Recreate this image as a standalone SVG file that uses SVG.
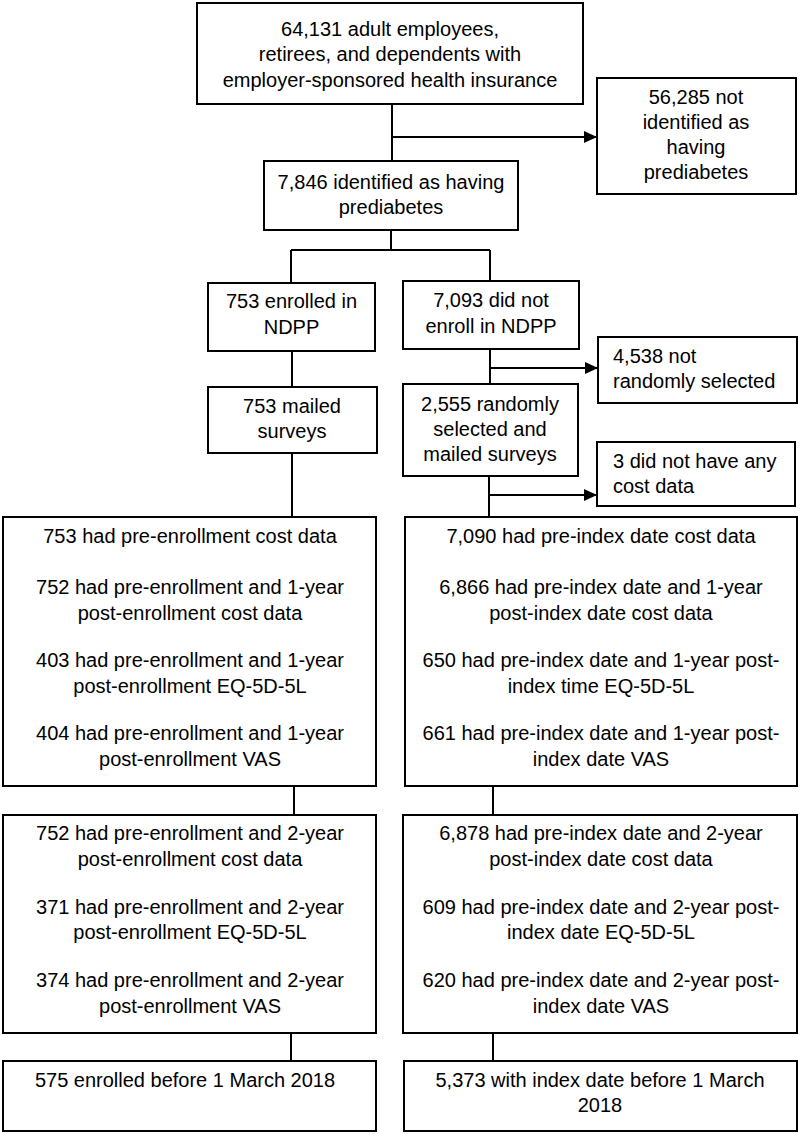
<svg xmlns="http://www.w3.org/2000/svg" width="800" height="1134" viewBox="0 0 800 1134">
<style>
.box{fill:#fff;stroke:#000;stroke-width:2}
.ln{fill:none;stroke:#000;stroke-width:2}
text{font-family:"Liberation Sans",Arial,sans-serif;font-size:20px;fill:#000}
.c{text-anchor:middle}
</style>
<defs>
<marker id="ah" markerUnits="userSpaceOnUse" markerWidth="14" markerHeight="12" refX="13" refY="6" orient="auto">
<path d="M0,0 L13,6 L0,12 Z" fill="#000"/>
</marker>
</defs>
<rect width="800" height="1134" fill="#fff"/>
<g id="connectors">
<path class="ln" d="M392,104 V161"/>
<path class="ln" d="M392,137 H597" marker-end="url(#ah)"/>
<path class="ln" d="M391,230 V250 M291,250 H490 M291,250 V283 M490,250 V281"/>
<path class="ln" d="M292,351 V387"/>
<path class="ln" d="M292,453 V517"/>
<path class="ln" d="M490,349 V384"/>
<path class="ln" d="M490,368 H598" marker-end="url(#ah)"/>
<path class="ln" d="M489,476 V517"/>
<path class="ln" d="M489,495 H597" marker-end="url(#ah)"/>
<path class="ln" d="M294,786 V815"/>
<path class="ln" d="M493,786 V815"/>
<path class="ln" d="M291,1033 V1061"/>
<path class="ln" d="M493,1033 V1061"/>
</g>
<g id="n1"><rect class="box" x="197" y="3" width="386" height="101"/>
<text class="c" x="390" y="36">64,131 adult employees,</text>
<text class="c" x="390" y="61">retirees, and dependents with</text>
<text class="c" x="390" y="87">employer-sponsored health insurance</text></g>
<g id="n2"><rect class="box" x="597" y="78" width="199" height="116"/>
<text class="c" x="696" y="104">56,285 not</text>
<text class="c" x="696" y="129">identified as</text>
<text class="c" x="696" y="154">having</text>
<text class="c" x="696" y="179">prediabetes</text></g>
<g id="n3"><rect class="box" x="264" y="161" width="254" height="69"/>
<text class="c" x="391" y="189">7,846 identified as having</text>
<text class="c" x="391" y="214">prediabetes</text></g>
<g id="n4"><rect class="box" x="208" y="283" width="167" height="68"/>
<text class="c" x="291.5" y="308">753 enrolled in</text>
<text class="c" x="291.5" y="334">NDPP</text></g>
<g id="n5"><rect class="box" x="403" y="281" width="176" height="68"/>
<text class="c" x="491" y="307">7,093 did not</text>
<text class="c" x="491" y="333">enroll in NDPP</text></g>
<g id="n6"><rect class="box" x="598" y="337" width="199" height="66"/>
<text x="613" y="363">4,538 not</text>
<text x="613" y="388">randomly selected</text></g>
<g id="n7"><rect class="box" x="208" y="387" width="169" height="66"/>
<text class="c" x="292" y="413">753 mailed</text>
<text class="c" x="292" y="438">surveys</text></g>
<g id="n8"><rect class="box" x="403" y="384" width="175" height="92"/>
<text class="c" x="490" y="411">2,555 randomly</text>
<text class="c" x="490" y="436">selected and</text>
<text class="c" x="490" y="461">mailed surveys</text></g>
<g id="n9"><rect class="box" x="597" y="442" width="198" height="64"/>
<text x="613" y="468">3 did not have any</text>
<text x="613" y="493">cost data</text></g>
<g id="n10"><rect class="box" x="3" y="517" width="373" height="269"/>
<text class="c" x="190" y="543">753 had pre-enrollment cost data</text>
<text class="c" x="190" y="594">752 had pre-enrollment and 1-year</text>
<text class="c" x="190" y="620">post-enrollment cost data</text>
<text class="c" x="190" y="667">403 had pre-enrollment and 1-year</text>
<text class="c" x="190" y="693">post-enrollment EQ-5D-5L</text>
<text class="c" x="190" y="740">404 had pre-enrollment and 1-year</text>
<text class="c" x="190" y="766">post-enrollment VAS</text></g>
<g id="n11"><rect class="box" x="405" y="517" width="392" height="269"/>
<text class="c" x="601" y="543">7,090 had pre-index date cost data</text>
<text class="c" x="601" y="594">6,866 had pre-index date and 1-year</text>
<text class="c" x="601" y="620">post-index date cost data</text>
<text class="c" x="601" y="667">650 had pre-index date and 1-year post-</text>
<text class="c" x="601" y="693">index time EQ-5D-5L</text>
<text class="c" x="601" y="740">661 had pre-index date and 1-year post-</text>
<text class="c" x="601" y="766">index date VAS</text></g>
<g id="n12"><rect class="box" x="3" y="815" width="373" height="218"/>
<text class="c" x="190" y="840">752 had pre-enrollment and 2-year</text>
<text class="c" x="190" y="866">post-enrollment cost data</text>
<text class="c" x="190" y="914">371 had pre-enrollment and 2-year</text>
<text class="c" x="190" y="939">post-enrollment EQ-5D-5L</text>
<text class="c" x="190" y="987">374 had pre-enrollment and 2-year</text>
<text class="c" x="190" y="1013">post-enrollment VAS</text></g>
<g id="n13"><rect class="box" x="403" y="815" width="394" height="218"/>
<text class="c" x="601" y="840">6,878 had pre-index date and 2-year</text>
<text class="c" x="601" y="866">post-index date cost data</text>
<text class="c" x="601" y="914">609 had pre-index date and 2-year post-</text>
<text class="c" x="601" y="939">index date EQ-5D-5L</text>
<text class="c" x="601" y="987">620 had pre-index date and 2-year post-</text>
<text class="c" x="601" y="1013">index date VAS</text></g>
<g id="n14"><rect class="box" x="3" y="1061" width="373" height="70"/>
<text class="c" x="185" y="1087">575 enrolled before 1 March 2018</text></g>
<g id="n15"><rect class="box" x="404" y="1061" width="393" height="70"/>
<text class="c" x="600" y="1087">5,373 with index date before 1 March</text>
<text class="c" x="600" y="1112">2018</text></g>
</svg>
